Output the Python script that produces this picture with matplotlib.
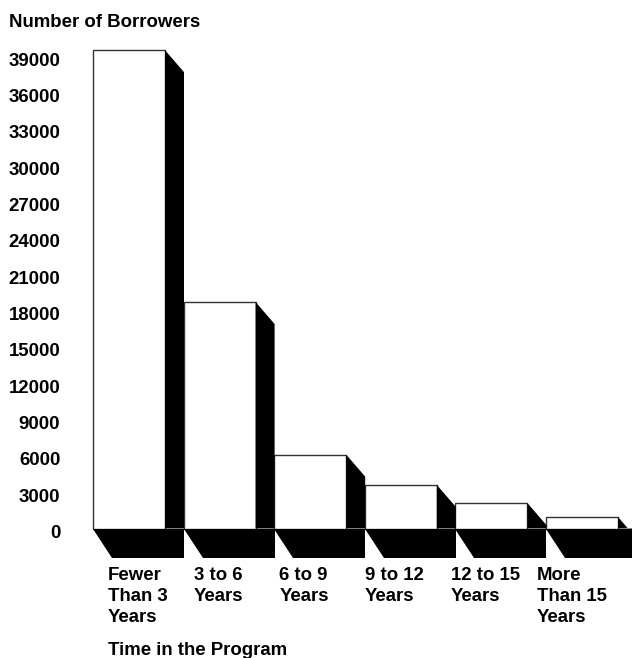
import matplotlib
matplotlib.use("Agg")
import matplotlib.pyplot as plt
from matplotlib.patches import Polygon
from matplotlib.transforms import ScaledTranslation

plt.rcParams['font.family'] = ['Liberation Sans', 'DejaVu Sans']
plt.rcParams['font.weight'] = 'bold'

categories = ["Fewer\nThan 3\nYears", "3 to 6\nYears", "6 to 9\nYears",
              "9 to 12\nYears", "12 to 15\nYears", "More\nThan 15\nYears"]
borrowers = [39500, 18700, 6100, 3600, 2100, 950]
yticks = list(range(0, 39001, 3000))

W, H = 632, 658
FS = 13.4
fig = plt.figure(figsize=(W / 100, H / 100), dpi=100)
fig.patch.set_facecolor('white')

# axes box in pixels: left edge of first bar, baseline, 12.11 px per 1000
px_per_cat = 90.6
px_per_val = 12.11 / 1000
left, base = 93, 528.5
ax = fig.add_axes([left / W, (H - base) / H, (W - left) / W,
                   39000 * px_per_val / H])
ax.set_xlim(0, (W - left) / px_per_cat)
ax.set_ylim(0, 39000)

bw = 72 / px_per_cat          # front face width
dx = 19 / px_per_cat          # depth offset to the right
side_dy = 22 / px_per_val     # slant of side face top
floor_dy = 29 / px_per_val    # depth of the black floor

xs = list(range(len(borrowers)))
bars = ax.bar(xs, borrowers, width=bw, align='edge', color='white',
              edgecolor='#333333', linewidth=1.0, zorder=2)
for b in bars:
    b.set_clip_on(False)

for x, v in zip(xs, borrowers):
    xr = x + bw
    side = Polygon([(xr, 0), (xr, v), (xr + dx, v - side_dy), (xr + dx, 0)],
                   closed=True, facecolor='black', edgecolor='none',
                   zorder=3, clip_on=False)
    floor = Polygon([(x, 0), (xr + dx, 0), (xr + dx, -floor_dy),
                     (x + dx, -floor_dy)],
                    closed=True, facecolor='black', edgecolor='none',
                    zorder=3, clip_on=False)
    ax.add_patch(side)
    ax.add_patch(floor)

ax.set_yticks(yticks)
ax.set_yticklabels([str(t) for t in yticks], fontsize=FS, fontweight='bold')
ax.tick_params(axis='y', length=0, pad=23.5)
ax.set_xticks([])
for lab in ax.get_yticklabels():
    lab.set_transform(lab.get_transform() + ScaledTranslation(0, -0.03, fig.dpi_scale_trans))
for s in ax.spines.values():
    s.set_visible(False)

# category labels below the floor
for i, cat in enumerate(categories):
    fig.text((107.7 + 85.8 * i) / W, 1 - 567.5 / H, cat, ha='left', va='top',
             fontsize=FS, fontweight='bold', linespacing=1.28)

fig.text(9 / W, 1 - 26.6 / H, "Number of Borrowers", ha='left',
         va='baseline', fontsize=FS, fontweight='bold')
fig.text(108 / W, 1 - 654.7 / H, "Time in the Program", ha='left',
         va='baseline', fontsize=FS, fontweight='bold')

fig.savefig("out.png", dpi=100, facecolor='white')
